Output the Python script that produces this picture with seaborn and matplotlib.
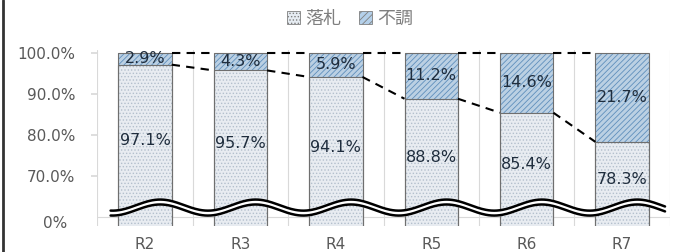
import numpy as np
import pandas as pd
import matplotlib
matplotlib.use("Agg")
import matplotlib.pyplot as plt
from matplotlib.patches import Rectangle
from matplotlib.lines import Line2D
from matplotlib.transforms import blended_transform_factory
import seaborn as sns

# data
years = ["R2", "R3", "R4", "R5", "R6", "R7"]
rakusatsu = [97.1, 95.7, 94.1, 88.8, 85.4, 78.3]   # 落札
fuchou = [2.9, 4.3, 5.9, 11.2, 14.6, 21.7]         # 不調
y_ticks = [70, 80, 90, 100]
floor = 60  # the axis is cut here (shown as 0%)

sns.set_theme(style="white")
plt.rcParams["font.family"] = ["DejaVu Sans", "Noto Sans CJK JP"]
plt.rcParams["hatch.linewidth"] = 0.6

df = pd.DataFrame({"year": years, "rakusatsu": rakusatsu, "fuchou": fuchou})
df["total"] = df["rakusatsu"] + df["fuchou"]

fig = plt.figure(figsize=(6.8, 2.52), dpi=100)
ax = fig.add_axes([0.143, 0.103, 0.842, 0.699])

W = 0.56
sns.barplot(data=df, x="year", y="total", color="#b4d0ea", width=W,
            errorbar=None, ax=ax, zorder=2)
sns.barplot(data=df, x="year", y="rakusatsu", color="#e6ecf2", width=W,
            errorbar=None, ax=ax, zorder=2)

n = len(years)
for k, p in enumerate(ax.patches):
    top = k < n
    p.set_hatch("//////" if top else ".....")
    p.set_edgecolor("#5f8fbc" if top else "#b3bfcc")
    p.set_linewidth(0)
    ax.add_patch(Rectangle(p.get_xy(), p.get_width(), p.get_height(), fill=False,
                           ec="#6f6f6f", lw=0.8, zorder=3))

ax.set_ylim(57.8, 100.7)
ax.set_xlim(-0.5, n - 0.5)

# series lines between bars
for i in range(n - 1):
    x0, x1 = i + W / 2, i + 1 - W / 2
    ax.plot([x0, x1], [df["total"][i], df["total"][i + 1]], color="black",
            lw=1.5, ls=(0, (4, 3)), zorder=4)
    ax.plot([x0, x1], [rakusatsu[i], rakusatsu[i + 1]], color="black",
            lw=1.5, ls=(0, (4, 3)), zorder=4)

# data labels
for i in range(n):
    ax.text(i, rakusatsu[i] + fuchou[i] / 2, f"{fuchou[i]:.1f}%", ha="center",
            va="center", fontsize=11.5, color="#1f2d3d", zorder=6)
    ax.text(i, (floor + rakusatsu[i]) / 2, f"{rakusatsu[i]:.1f}%", ha="center",
            va="center", fontsize=11.5, color="#1f2d3d", zorder=6)

# category boundaries and baseline
for b in np.arange(-0.5, n, 1.0):
    ax.axvline(b, color="#d9d9d9", lw=0.8, zorder=1)
ax.axhline(floor, color="#d9d9d9", lw=0.8, zorder=1)

# wavy break mark
xs = np.linspace(-0.36, n - 0.55, 400)
wave = 62.9 + 1.35 * np.cos(2 * np.pi * (xs - 0.16))
ax.fill_between(xs, wave - 1.2, wave, color="white", zorder=5)
ax.plot(xs, wave, color="black", lw=1.8, zorder=5)
ax.plot(xs, wave - 1.2, color="black", lw=1.8, zorder=5)

for s in ax.spines.values():
    s.set_visible(False)
ax.set_yticks(y_ticks)
ax.set_yticklabels([f"{t:.1f}%" for t in y_ticks])
ax.tick_params(axis="y", length=4, color="#d9d9d9", pad=12, labelsize=11,
               labelcolor="#595959", left=True)
ax.tick_params(axis="x", length=0, pad=8, labelsize=11, labelcolor="#595959")
ax.set_xlabel("")
ax.set_ylabel("")
tr = blended_transform_factory(ax.transAxes, ax.transData)
ax.text(-0.073, 58.4, "0%", transform=tr, ha="center", va="center",
        fontsize=11, color="#595959")

# legend
handles = [Rectangle((0, 0), 1, 1, fc="#e6ecf2", ec="#7f7f7f", lw=0.6, hatch="....."),
           Rectangle((0, 0), 1, 1, fc="#b4d0ea", ec="#7f7f7f", lw=0.6, hatch="/////")]
fig.legend(handles, ["落札", "不調"], loc="center", bbox_to_anchor=(0.515, 0.925),
           ncol=2, frameon=False, labelcolor="#7f7f7f",
           handlelength=0.7, handleheight=0.7, handletextpad=0.3, columnspacing=1.0,
           prop={"family": ["Noto Sans CJK JP"], "size": 13})

fig.add_artist(Line2D([0.005, 0.005], [0, 1], color="#333333", lw=2))

fig.savefig("out.png", dpi=100)
